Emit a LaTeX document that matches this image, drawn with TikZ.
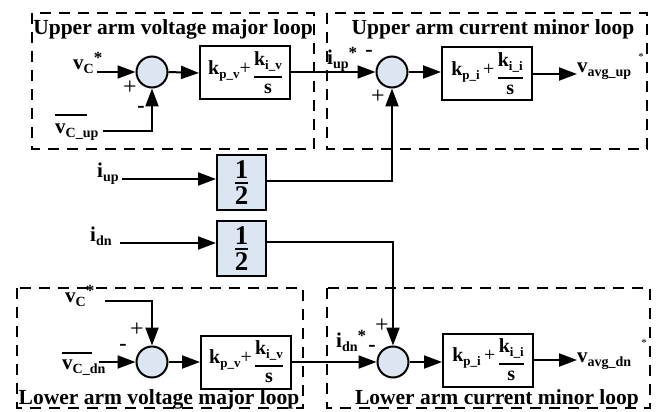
\documentclass[tikz,border=0pt]{standalone}
\usepackage{fontspec}
\setmainfont{Liberation Serif}
\usetikzlibrary{arrows.meta}
\definecolor{sumfill}{HTML}{DCE6F2}
% fraction: #1 num, #2 num height, #3 num depth, #4 den, #5 den height, #6 den depth
\newcommand\fracx[6]{$\vcenter{\offinterlineskip\halign{\hfil##\hfil\cr
  \vrule width0pt height#2 depth#3 #1\cr
  \noalign{\hrule height1.8pt}
  \vrule width0pt height#5 depth#6 #4\cr}}$}
\newcommand\sbx[1]{\raisebox{-4pt}{\fontsize{14}{14}\selectfont #1}}
\newcommand\sbk[1]{\raisebox{-4pt}{\fontsize{13}{13}\selectfont #1}}
\newcommand\spx{\raisebox{6pt}{\fontsize{17}{17}\selectfont *}}
\begin{document}
\begin{tikzpicture}[x=1pt,y=-1pt,
  lab/.style={font=\fontsize{21}{24}\selectfont\bfseries, inner sep=0pt},
  sgn/.style={font=\fontsize{24}{26}\selectfont, inner sep=0pt},
  msgn/.style={font=\fontsize{22}{24}\selectfont\bfseries, inner sep=0pt},
  star/.style={font=\fontsize{11}{12}\selectfont, inner sep=0pt},
  ttl/.style={font=\fontsize{21.5}{25}\selectfont\bfseries, inner sep=0pt, anchor=base},
  loopbox/.style={draw, line width=1.9pt, dash pattern=on 11pt off 8pt},
  sumnode/.style={circle, draw, line width=2pt, fill=sumfill, minimum size=31pt, inner sep=0pt},
  pibox/.style={draw, line width=2pt, minimum width=90pt, minimum height=53pt, inner sep=0pt, font=\fontsize{20}{23}\selectfont\bfseries},
  halfbox/.style={draw, line width=2pt, fill=sumfill, minimum width=49pt, minimum height=55pt, inner sep=0pt, font=\fontsize{27}{30}\selectfont\bfseries},
  arr/.style={line width=2pt, -{Triangle[length=18pt,width=13pt]}},
  wire/.style={line width=2pt}]
\useasboundingbox (0,0) rectangle (662,412);

% loop frames
\draw[loopbox] (32,13) rectangle (314,149);
\draw[loopbox] (327,13) rectangle (647,149);
\draw[loopbox] (17,288) rectangle (303,408);
\draw[loopbox] (327,288) rectangle (650,408);

% titles
\node[ttl] (tUL) at (173,35) {Upper arm voltage major loop};
\node[ttl] (tUR) at (493,35) {Upper arm current minor loop};
\node[ttl] (tLL) at (159,404) {Lower arm voltage major loop};
\node[ttl] (tLR) at (497,404) {Lower arm current minor loop};

% PI content macros
\newcommand\piv{k\sbk{p\_v}{\mdseries+}\,\raisebox{-4pt}{\fracx{k\sbk{i\_v}}{14pt}{11pt}{s}{16pt}{1pt}}}
\newcommand\pii{k\sbk{p\_i}\,{\mdseries+}\,\raisebox{-4pt}{\fracx{k\sbk{i\_i}}{14pt}{11pt}{s}{16pt}{1pt}}}

% upper row
\node[sumnode] (sUL) at (152,72) {};
\node[pibox] (piUL) at (245,73) {\piv};
\node[sumnode] (sUR) at (392,72) {};
\node[pibox] (piUR) at (487,74) {\pii};

% lower row
\node[sumnode] (sLL) at (152,362) {};
\node[pibox] (piLL) at (246,362) {\piv};
\node[sumnode] (sLR) at (393,362) {};
\node[pibox] (piLR) at (488,360) {\pii};

% gain blocks
\node[halfbox] (h1) at (241.5,182.5) {\fracx{1}{18pt}{4pt}{2}{21pt}{0pt}};
\node[halfbox] (h2) at (241.5,248.5) {\fracx{1}{18pt}{4pt}{2}{21pt}{0pt}};

% labels
\node[lab, anchor=base west] (lvcU) at (73,70) {v\sbx{C}\spx};
\node[lab, anchor=base west] (lvcup) at (55,134) {\rlap{\rule[18pt]{32pt}{1.8pt}}v\sbx{C\_up}};
\node[lab, anchor=base west] (liupS) at (327,65) {i\sbx{up}\spx};
\node[lab, anchor=base west] (liup) at (97,177) {i\sbx{up}};
\node[lab, anchor=base west] (lidn) at (90,241) {i\sbx{dn}};
\node[lab, anchor=base west] (lvcL) at (65,302) {v\sbx{C}\spx};
\node[lab, anchor=base west] (lvcdn) at (62,369) {\rlap{\rule[15pt]{30pt}{1.8pt}}v\sbx{C\_dn}};
\node[lab, anchor=base west] (lidnS) at (336,347) {i\sbx{dn}\spx};
\node[lab, anchor=base west] (lvavgU) at (577,73) {v\sbx{avg\_up}};
\node[lab, anchor=base west] (lvavgL) at (577,362) {v\sbx{avg\_dn}};
\node[star] (stU) at (641,57) {*};
\node[star] (stL) at (644,343) {*};

% signs
\node[sgn] (pUL) at (130,88) {+};
\node[msgn] (mUL) at (141,109) {-};
\node[msgn] (mUR) at (369,53) {-};
\node[sgn] (pUR) at (378,97) {+};
\node[sgn] (pLL) at (137,330) {+};
\node[msgn] (mLL) at (123,347) {-};
\node[sgn] (pLR) at (382,326) {+};
\node[msgn] (mLR) at (372,348) {-};

% free ends
\coordinate (inUL) at (97,72);
\coordinate (inCup) at (103,131);
\coordinate (outU) at (577,74);
\coordinate (inIup) at (122,179);
\coordinate (inIdn) at (120,243);
\coordinate (inLL) at (105,301);
\coordinate (inCdn) at (99,362);
\coordinate (outL) at (577,360);

% connectors upper
\draw[arr] (inUL) -- (sUL.west);
\draw[arr] (inCup) -| (sUL.south);
\draw[arr] (sUL.east) -- (piUL.west);
\draw[arr] (piUL.east |- sUR) -- (sUR.west);
\draw[arr] (sUR.east) -- (sUR.east -| piUR.west);
\draw[arr] (piUR.east) -- (outU);

% gains
\draw[arr] (inIup) -- (inIup -| h1.west);
\draw[arr] (inIdn) -- (inIdn -| h2.west);
\draw[arr] ([yshift=1.5pt]h1.east) -| (sUR.south);
\draw[arr] ([yshift=7pt]h2.east) -| (sLR.north);

% connectors lower
\draw[arr] (inLL) -| (sLL.north);
\draw[arr] (inCdn) -- (sLL.west);
\draw[arr] (sLL.east) -- (piLL.west);
\draw[arr] (piLL.east) -- (sLR.west);
\draw[arr] (sLR.east) -- (sLR.east -| piLR.west);
\draw[arr] (piLR.east) -- (outL);
\end{tikzpicture}
\end{document}
